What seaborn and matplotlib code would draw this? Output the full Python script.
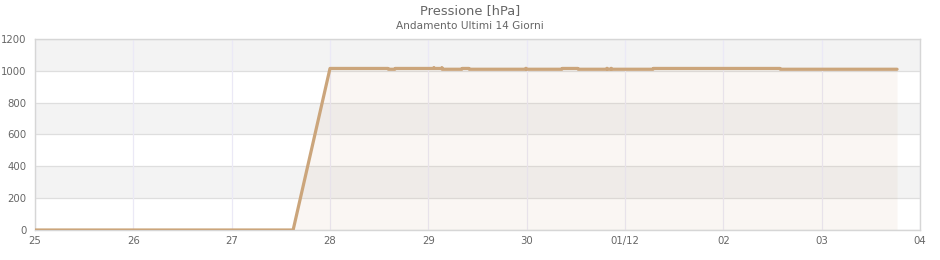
import matplotlib
matplotlib.use("Agg")
import matplotlib.pyplot as plt
import seaborn as sns
import pandas as pd

# ---- data ----
times = [
    "2024-11-25 00:00", "2024-11-27 15:00", "2024-11-28 00:00",
    "2024-11-28 14:10", "2024-11-28 14:15", "2024-11-28 15:50", "2024-11-28 15:55",
    "2024-11-29 01:20", "2024-11-29 01:22", "2024-11-29 01:25",
    "2024-11-29 03:18", "2024-11-29 03:20", "2024-11-29 03:22", "2024-11-29 03:25",
    "2024-11-29 08:10", "2024-11-29 08:15", "2024-11-29 09:55", "2024-11-29 10:00",
    "2024-11-29 23:48", "2024-11-29 23:50", "2024-11-29 23:53",
    "2024-11-30 08:35", "2024-11-30 08:40", "2024-11-30 12:30", "2024-11-30 12:35",
    "2024-11-30 19:35", "2024-11-30 19:37", "2024-11-30 19:40",
    "2024-11-30 20:35", "2024-11-30 20:37", "2024-11-30 20:40",
    "2024-12-01 06:50", "2024-12-01 06:55", "2024-12-02 13:50", "2024-12-02 13:55",
    "2024-12-03 18:24",
]
pressure = [
    0, 0, 1015,
    1015, 1010, 1010, 1015,
    1015, 1020, 1015,
    1015, 1020, 1010, 1010,
    1010, 1015, 1015, 1010,
    1010, 1016, 1010,
    1010, 1015, 1015, 1010,
    1010, 1016, 1010,
    1010, 1016, 1010,
    1010, 1015, 1015, 1010,
    1010,
]
tick_dates = ["2024-11-25", "2024-11-26", "2024-11-27", "2024-11-28", "2024-11-29",
              "2024-11-30", "2024-12-01", "2024-12-02", "2024-12-03", "2024-12-04"]
tick_labels = ["25", "26", "27", "28", "29", "30", "01/12", "02", "03", "04"]
y_ticks = [0, 200, 400, 600, 800, 1000, 1200]

title = "Pressione [hPa]"
subtitle = "Andamento Ultimi 14 Giorni"

df = pd.DataFrame({"time": pd.to_datetime(times), "pressure": pressure})

sns.set_style("white")
plt.rcParams["font.family"] = ["DejaVu Sans"]

line_color = "#cba57b"
text_color = "#666666"

fig = plt.figure(figsize=(9.4, 2.6), dpi=100)
ax = fig.add_axes([35 / 940, 1 - 230 / 260, (920 - 35) / 940, (230 - 39) / 260])

# alternating horizontal bands
for i in range(len(y_ticks) - 1):
    if i % 2 == 1:
        ax.axhspan(y_ticks[i], y_ticks[i + 1], color="#f3f3f3", zorder=0, lw=0)

for yt in y_ticks:
    ax.axhline(yt, color="#dedede", lw=0.9, zorder=0.5)
for td in pd.to_datetime(tick_dates):
    ax.axvline(td, color="#ebe9f6", lw=0.9, zorder=0.5)

ax.fill_between(df["time"], 0, df["pressure"], color=line_color, alpha=0.09, lw=0, zorder=1)
sns.lineplot(data=df, x="time", y="pressure", ax=ax, color=line_color, lw=2.3, zorder=3)

ax.set_xlim(pd.Timestamp(tick_dates[0]), pd.Timestamp(tick_dates[-1]))
ax.set_ylim(y_ticks[0], y_ticks[-1])
ax.set_xticks(pd.to_datetime(tick_dates))
ax.set_xticklabels(tick_labels)
ax.set_yticks(y_ticks)
ax.set_yticklabels([str(v) for v in y_ticks])
ax.tick_params(axis="both", length=0, labelsize=7.3, colors=text_color)
ax.tick_params(axis="y", pad=6.2)
ax.tick_params(axis="x", pad=4.5)
ax.set_xlabel("")
ax.set_ylabel("")
ax.grid(False)
for s in ax.spines.values():
    s.set_color("#d6d6d6")
    s.set_linewidth(1)
    s.set_visible(True)

fig.text(0.5, 1 - 11 / 260, title, ha="center", va="center", fontsize=9.4, color=text_color)
fig.text(0.5, 1 - 26 / 260, subtitle, ha="center", va="center", fontsize=7.6, color=text_color)

fig.savefig("out.png", dpi=100)
